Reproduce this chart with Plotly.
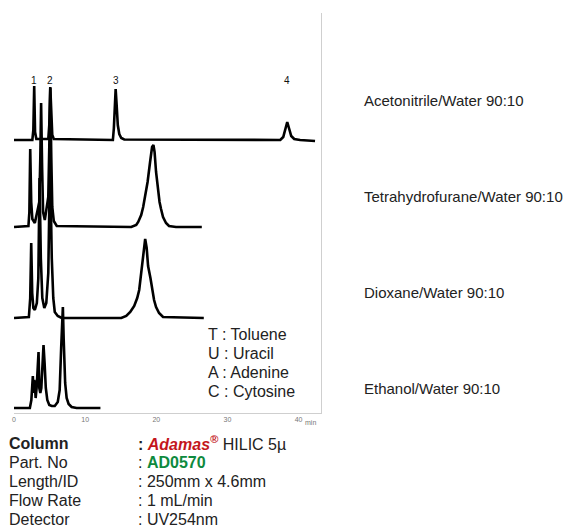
import plotly.graph_objects as go

# ---- chromatogram data (time in min, signal in arbitrary units) ----
acn_time = [0, 2.58, 2.72, 2.84, 2.96, 3.14, 4.82, 4.96, 5.10, 5.24, 5.38, 5.59,
            13.90, 14.04, 14.18, 14.29, 14.43, 14.59, 14.80, 15.08, 15.50,
            37.43, 37.85, 38.13, 38.41, 38.69, 38.97, 39.39, 40.22, 42.32]
acn_signal = [0, 0, 10, 54, 8, 1, 1, 15, 53, 30, 5, 1,
              0, 12, 45, 51, 35, 15, 6, 2, 0.5,
              0, 3, 10, 18, 11, 4, 1, 0, -1]

thf_time = [0, 2.03, 2.16, 2.28, 2.42, 2.58, 2.93, 3.35, 3.56, 3.70, 3.81, 3.95,
            4.09, 4.33, 4.61, 4.82, 4.96, 5.10, 5.24, 5.38, 5.59, 6.01,
            16.48, 17.18, 17.46, 17.88, 18.16, 18.44, 18.78, 19.13, 19.41, 19.60,
            19.76, 19.97, 20.21, 20.46, 20.67, 20.95, 21.37, 21.79, 22.77, 26.40]
thf_signal = [0, 1, 15, 78, 25, 8, 4, 18, 25, 70, 124, 60,
              15, 7, 20, 30, 80, 139, 70, 20, 6, 1,
              0, 2, 5, 12, 20, 31, 45, 65, 80, 82,
              75, 55, 40, 25, 18, 10, 4, 1, 0, 0]

dio_time = [0, 2.09, 2.28, 2.42, 2.56, 2.72, 2.93, 3.21, 3.42, 3.59, 3.77, 3.98,
            4.26, 4.54, 4.82, 5.07, 5.31, 5.52, 5.73, 6.15, 6.70,
            15.08, 15.78, 16.34, 16.90, 17.32, 17.60, 17.78, 18.02, 18.23, 18.44,
            18.65, 18.85, 19.18, 19.41, 19.69, 19.97, 20.39, 20.95, 26.68]
dio_signal = [0, 1, 20, 75, 25, 10, 8, 15, 40, 140, 60, 20,
              10, 15, 45, 160, 60, 20, 6, 2, 0,
              0, 2, 6, 12, 20, 28, 40, 58, 72, 79,
              70, 52, 40, 28, 18, 11, 5, 1, 0]

eth_time = [0, 2.23, 2.44, 2.58, 2.65, 2.75, 2.84, 2.93, 3.04, 3.18, 3.32, 3.45,
            3.56, 3.70, 3.84, 4.02, 4.15, 4.30, 4.47, 4.68, 4.96, 5.31, 5.73,
            6.15, 6.42, 6.63, 6.77, 6.87, 6.98, 7.19, 7.40, 7.68, 8.10, 8.80, 12.15]
eth_signal = [0, 0, 8, 30, 32, 15, 28, 24, 10, 20, 45, 56,
              20, 15, 20, 55, 63, 45, 20, 8, 3, 2, 2,
              6, 18, 60, 100, 101, 70, 25, 10, 4, 1, 0, 0]

peak_ids = ["1", "2", "3", "4"]
peak_times = [2.84, 5.05, 14.35, 38.41]

tick_vals = [0, 10, 20, 30, 40]
tick_text = ["0", "10", "20", "30", "40"]

solvents = ["Acetonitrile/Water 90:10", "Tetrahydrofurane/Water 90:10",
            "Dioxane/Water 90:10", "Ethanol/Water 90:10"]
compounds = ["T : Toluene", "U : Uracil", "A : Adenine", "C : Cytosine"]

cond_labels = ["<b>Column</b>", "Part. No", "Length/ID", "Flow Rate", "Detector"]
cond_values = [
    "<b>: </b><span style='color:#c4161c'><b><i>Adamas</i></b><sup><b><i>®</i></b></sup></span> HILIC 5µ",
    ": <span style='color:#0e8a3e'><b>AD0570</b></span>",
    ": 250mm x 4.6mm",
    ": 1 mL/min",
    ": UV254nm",
]

# ---- layout geometry (pixels) ----
W, H = 576, 527
PL, PR, PT, PB = 12, 321, 13, 413       # plot area edges
PX_PER_MIN = 71.6 / 10
Y0 = 408                                  # baseline of lowest trace (px)
offsets = [268, 181, 90, 0]               # vertical stacking, px above Y0


def px(x):
    return (x - PL) / (PR - PL)


def py(y):
    return (PB - y) / (PB - PT)


fig = go.Figure()
series = [(acn_time, acn_signal), (thf_time, thf_signal),
          (dio_time, dio_signal), (eth_time, eth_signal)]
for (t, s), off in zip(series, offsets):
    fig.add_trace(go.Scatter(
        x=t, y=[v + off for v in s], mode="lines",
        line=dict(color="black", width=2.6), hoverinfo="skip", showlegend=False,
    ))

ann = []
for lab, t in zip(peak_ids, peak_times):
    ann.append(dict(x=t, xref="x", y=py(73), yref="paper", text=lab, showarrow=False,
                    font=dict(size=10, color="#111")))

for i, txt in enumerate(solvents):
    ann.append(dict(x=px(362), xref="paper", y=py(100 + 96 * i), yref="paper",
                    text=txt, showarrow=False, xanchor="left", yanchor="middle",
                    font=dict(size=15, color="#222")))

for i, txt in enumerate(compounds):
    ann.append(dict(x=px(205), xref="paper", y=py(334 + 19 * i), yref="paper",
                    text=txt, showarrow=False, xanchor="left", yanchor="middle",
                    font=dict(size=16, color="#222")))

for i, (lab, val) in enumerate(zip(cond_labels, cond_values)):
    yy = py(443 + 19 * i)
    ann.append(dict(x=px(5), xref="paper", y=yy, yref="paper", text=lab,
                    showarrow=False, xanchor="left", yanchor="middle",
                    font=dict(size=16, color="#222")))
    ann.append(dict(x=px(135), xref="paper", y=yy, yref="paper", text=val,
                    showarrow=False, xanchor="left", yanchor="middle",
                    font=dict(size=16, color="#222")))

ann.append(dict(x=px(303), xref="paper", y=py(422), yref="paper", text="min",
                showarrow=False, xanchor="left", yanchor="middle",
                font=dict(size=7, color="#777")))

fig.update_layout(
    width=W, height=H,
    margin=dict(l=PL, r=W - PR, t=PT, b=H - PB),
    paper_bgcolor="white", plot_bgcolor="white",
    font=dict(family="Liberation Sans, Arial, sans-serif"),
    annotations=ann,
    xaxis=dict(range=[0, (PR - PL) / PX_PER_MIN], tickvals=tick_vals, ticktext=tick_text,
               showgrid=False, zeroline=False, showline=True, linecolor="#cfcfcf",
               linewidth=1, ticks="", tickfont=dict(size=7, color="#777")),
    yaxis=dict(range=[Y0 - PB, Y0 - PT], side="right", showgrid=False, zeroline=False,
               showline=True, linecolor="#cfcfcf", linewidth=1, ticks="",
               showticklabels=False),
)

fig.write_html("out.html", config={"displayModeBar": False},
               post_script="document.body.style.margin='0px';")
